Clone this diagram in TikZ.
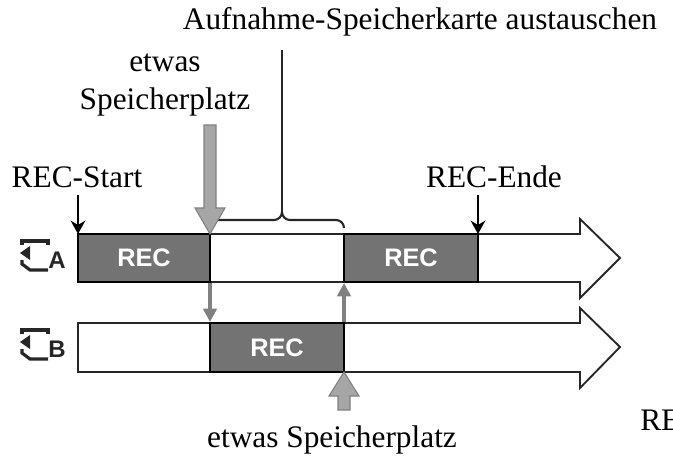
\documentclass[tikz,border=0pt]{standalone}
\usepackage{fontspec}
\usetikzlibrary{arrows.meta}
\setmainfont{Liberation Serif}
\newfontfamily\recfont{Liberation Sans}
\begin{document}
\begin{tikzpicture}[x=0.75pt,y=-0.75pt,
  lbl/.style={font=\fontsize{23.5}{27}\selectfont,inner sep=0pt},
  rec/.style={fill=black!55,draw=black,line width=1.2pt},
  bar/.style={draw=black!85,line width=1.4pt,fill=white},
  recl/.style={text=white,font=\recfont\bfseries\fontsize{19}{22}\selectfont},
  garrow/.style={fill=black!35,draw=black!50,line width=0.8pt},
  ic/.style={line width=2.4pt,black!85}]
\useasboundingbox (0,0) rectangle (673,459);
% bar shapes
\draw[bar] (78,234) -- (580,234) -- (580,219) -- (620,258) -- (580,298) -- (580,282) -- (78,282) -- cycle;
\draw[bar] (78,323) -- (580,323) -- (580,308) -- (620,347) -- (580,388) -- (580,372) -- (78,372) -- cycle;
\draw[rec] (78,234) rectangle (210,282) node[midway,recl] (r1) {REC};
\draw[rec] (344,234) rectangle (478,282) node[midway,recl] (r2) {REC};
\draw[rec] (210,323) rectangle (344,372) node[midway,recl] (r3) {REC};
% icons
\foreach \y/\l in {258/A,347/B}{
  \draw[ic] (22,\y-13) -- (22,\y-17) -- (48,\y-17) -- (48,\y-13);
  \draw[ic] (22,\y+2) -- (22,\y+6) -- (30,\y+12) -- (48,\y+12);
  \fill[black!85] (20,\y-5) -- (30,\y-12) -- (30,\y+2) -- cycle;
  \node[font=\recfont\bfseries\fontsize{18}{20}\selectfont,black!85] at (57,\y+2) {\l};
}
% labels
\node[lbl] (top) at (420,22) {Aufnahme-Speicherkarte austauschen};
\node[lbl,align=center] (ew) at (165,85) {etwas\\[1pt]Speicherplatz};
\node[lbl] (st) at (77,177) {REC-Start};
\node[lbl] (en) at (494,177) {REC-Ende};
\node[lbl] (ew2) at (332,440) {etwas Speicherplatz};
\node[lbl,anchor=west] (re) at (640,420) {RE};
% black arrows
\coordinate (s0) at (78,195); \coordinate (s1) at (78,234);
\coordinate (e0) at (478,195); \coordinate (e1) at (478,234);
\draw[line width=2pt,-{Stealth[length=10pt,width=11pt]}] (s0) -- (s1);
\draw[line width=2pt,-{Stealth[length=10pt,width=11pt]}] (e0) -- (e1);
% brace
\draw[line width=1.6pt,black!85] (210,228) to[out=90,in=180] (218,220) -- (274,220) to[out=0,in=-90] (282,212) to[out=-90,in=180] (290,220) -- (336,220) to[out=0,in=90] (344,228);
\draw[line width=1.6pt,black!85] (282,212) -- (282,50);
% big gray arrows
\draw[garrow] (204,125) -- (216,125) -- (216,208) -- (225,208) -- (210,234) -- (195,208) -- (204,208) -- cycle;
\draw[garrow] (338,410) -- (350,410) -- (350,396) -- (359,396) -- (344,372) -- (329,396) -- (338,396) -- cycle;
% small gray arrows
\coordinate (a0) at (210,283); \coordinate (a1) at (210,322);
\coordinate (b0) at (344,322); \coordinate (b1) at (344,283);
\draw[black!50,line width=3pt,-{Triangle[length=10pt,width=10pt]}] (a0) -- (a1);
\draw[black!50,line width=3pt,-{Triangle[length=10pt,width=10pt]}] (b0) -- (b1);
\end{tikzpicture}
\end{document}
